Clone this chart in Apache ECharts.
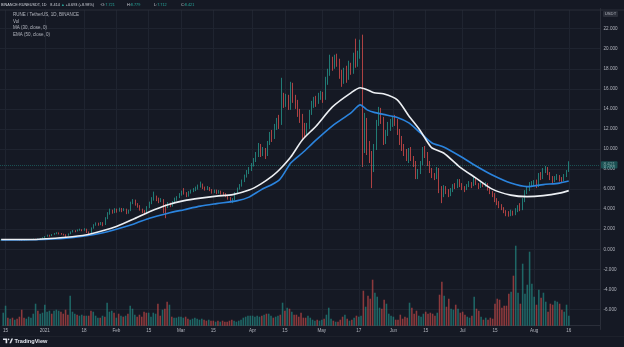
<!DOCTYPE html>
<html>
<head>
<meta charset="utf-8">
<script src="https://cdn.jsdelivr.net/npm/echarts@6/dist/echarts.min.js"></script>
<style>
  html, body { margin: 0; padding: 0; background: #151924; }
  #chart { width: 624px; height: 347px; }
</style>
</head>
<body>
<div id="chart"></div>
<script>
// RUNE / TetherUS daily candles, Binance, 14 Dec 2020 – 16 Aug 2021
const firstDay = '2020-12-14';
const dayCount = 259; // candle days plus empty space on the right

// daily candles: [open, close, low, high]
const candles = [
  // Dec 2020 (14–31)
  [0.90,0.92,0.88,0.95],[0.92,0.95,0.90,0.97],[0.95,0.93,0.91,0.98],[0.93,0.97,0.92,1.00],[0.97,0.95,0.93,0.99],
  [0.95,0.98,0.94,1.01],[0.98,0.96,0.93,1.00],[0.96,0.93,0.90,0.98],[0.93,0.90,0.86,0.95],[0.90,0.88,0.84,0.92],
  [0.88,0.91,0.87,0.94],[0.91,0.94,0.90,0.97],[0.94,0.96,0.92,0.99],[0.96,0.99,0.95,1.03],[0.99,1.02,0.97,1.06],
  [1.02,0.98,0.95,1.05],[0.98,1.03,0.96,1.07],[1.03,1.08,1.01,1.12],
  // Jan 2021
  [1.08,1.15,1.05,1.20],[1.15,1.28,1.12,1.32],[1.28,1.40,1.25,1.46],[1.40,1.35,1.25,1.45],[1.35,1.48,1.32,1.52],
  [1.48,1.55,1.44,1.62],[1.55,1.62,1.50,1.70],[1.62,1.58,1.48,1.68],[1.58,1.50,1.45,1.62],[1.50,1.45,1.38,1.55],
  [1.45,1.38,1.22,1.50],[1.38,1.52,1.35,1.58],[1.52,1.72,1.50,1.78],[1.72,1.85,1.68,1.92],[1.85,1.80,1.70,1.90],
  [1.80,1.90,1.78,1.98],[1.90,1.95,1.85,2.05],[1.95,1.88,1.80,2.00],[1.88,2.00,1.85,2.10],[2.00,1.70,1.62,2.05],
  [1.70,1.62,1.50,1.78],[1.62,2.10,1.58,2.18],[2.10,2.40,2.05,2.50],[2.40,2.55,2.35,2.68],[2.55,2.48,2.35,2.65],
  [2.48,2.60,2.40,2.72],[2.60,2.45,2.30,2.70],[2.45,3.10,2.42,3.20],[3.10,3.55,3.00,3.70],[3.55,3.85,3.45,4.05],
  [3.85,3.70,3.55,3.95],
  // Feb
  [3.70,3.95,3.60,4.10],[3.95,3.80,3.65,4.05],[3.80,4.05,3.75,4.15],[4.05,3.90,3.70,4.12],[3.90,4.00,3.80,4.10],
  [4.00,3.65,3.50,4.05],[3.65,3.85,3.55,3.95],[3.85,4.60,3.80,4.75],[4.60,4.85,4.50,5.00],[4.85,4.50,4.35,4.95],
  [4.50,4.30,4.15,4.60],[4.30,3.95,3.85,4.40],[3.95,3.80,3.60,4.05],[3.80,3.55,3.40,3.90],[3.55,4.20,3.50,4.30],
  [4.20,4.60,4.10,4.75],[4.60,4.95,4.50,5.20],[4.95,5.20,4.85,5.75],[5.20,5.00,4.80,5.35],[5.00,4.85,4.60,5.15],
  [4.85,4.95,4.70,5.10],[4.95,4.40,3.60,5.00],[4.40,4.25,3.10,4.50],[4.25,4.50,4.10,4.70],[4.50,4.35,4.20,4.65],
  [4.35,4.70,4.25,4.80],[4.70,5.00,4.60,5.15],[5.00,5.20,4.85,5.30],
  // Mar
  [5.20,5.45,5.10,5.60],[5.45,5.70,5.35,5.85],[5.70,5.60,5.45,6.10],[5.60,5.35,5.20,5.70],[5.35,5.65,5.25,5.80],
  [5.65,5.80,5.55,5.95],[5.80,5.95,5.70,6.10],[5.95,6.05,5.80,6.25],[6.05,6.30,5.95,6.45],[6.30,6.45,6.15,6.75],
  [6.45,6.15,6.00,6.55],[6.15,6.00,5.85,6.25],[6.00,6.15,5.90,6.30],[6.15,5.90,5.80,6.20],[5.90,5.75,5.55,6.00],
  [5.75,5.85,5.60,5.95],[5.85,5.65,5.50,5.95],[5.65,5.80,5.55,5.90],[5.80,5.60,5.45,5.85],[5.60,5.55,5.40,5.70],
  [5.55,5.35,5.20,5.60],[5.35,5.10,4.95,5.40],[5.10,4.80,4.65,5.20],[4.80,5.00,4.60,5.10],[5.00,5.60,4.90,5.70],
  [5.60,6.05,5.50,6.15],[6.05,6.35,5.95,6.50],[6.35,6.80,6.25,6.95],[6.80,7.30,6.70,7.45],[7.30,7.70,7.15,7.90],
  [7.70,7.95,7.50,8.20],
  // Apr
  [7.95,8.40,7.80,8.60],[8.40,8.90,8.25,9.10],[8.90,9.40,8.70,9.70],[9.40,10.30,9.20,10.60],[10.30,9.50,9.20,10.50],
  [9.50,9.90,9.30,10.20],[9.90,9.40,9.00,10.10],[9.40,10.60,9.30,10.80],[10.60,11.40,10.40,11.70],[11.40,11.20,10.70,11.90],
  [11.20,12.20,11.00,12.50],[12.20,12.80,11.90,13.10],[12.80,12.50,12.00,13.40],[12.50,15.20,12.40,17.10],[15.20,14.60,14.10,15.60],
  [14.60,15.10,14.20,15.50],[15.10,14.30,13.90,15.40],[14.30,16.40,13.90,16.70],[16.40,15.00,14.60,16.60],[15.00,14.60,14.00,15.40],
  [14.60,13.60,13.20,14.90],[13.60,13.20,12.60,14.00],[13.20,12.30,10.90,13.50],[12.30,11.60,11.20,12.60],[11.60,12.20,11.30,12.60],
  [12.20,13.60,12.00,13.90],[13.60,14.50,13.40,14.80],[14.50,14.90,14.10,15.20],[14.90,14.70,14.20,15.30],[14.70,15.30,14.50,15.60],
  // May
  [15.30,15.40,14.90,15.80],[15.40,15.00,14.60,15.70],[15.00,16.90,14.90,17.20],[16.90,17.60,16.40,18.00],[17.60,18.80,17.30,19.40],
  [18.80,18.40,17.80,19.20],[18.40,19.10,18.00,19.40],[19.10,18.80,18.20,19.50],[18.80,17.40,17.00,19.00],[17.40,16.80,16.20,17.90],
  [16.80,17.80,16.50,18.10],[17.80,17.20,16.60,18.30],[17.20,18.20,16.90,18.80],[18.20,17.80,17.40,18.60],[17.80,19.20,17.50,19.60],
  [19.20,18.60,18.10,21.00],[18.60,19.30,18.20,19.80],[19.30,20.30,19.00,20.90],[20.30,10.40,8.20,21.40],[10.40,12.70,9.60,13.60],
  [12.70,10.30,9.40,13.10],[10.30,9.40,8.60,10.80],[9.40,7.90,6.10,9.80],[7.90,10.20,7.70,10.50],[10.20,12.60,9.90,12.90],
  [12.60,13.90,12.30,14.20],[13.90,12.90,12.50,14.10],[12.90,10.90,10.40,13.20],[10.90,11.60,10.50,11.90],[11.60,12.40,11.30,12.70],
  [12.40,12.60,11.80,13.00],
  // Jun
  [12.60,13.00,12.20,13.30],[13.00,12.60,12.30,13.40],[12.60,11.80,11.40,13.00],[11.80,11.00,10.40,12.00],[11.00,10.20,9.80,11.30],
  [10.20,9.60,9.30,10.50],[9.60,9.20,8.80,10.00],[9.20,9.90,8.60,10.10],[9.90,9.10,8.80,10.20],[9.10,8.60,8.20,9.30],
  [8.60,7.40,7.00,8.80],[7.40,7.70,7.00,8.00],[7.70,8.60,7.50,8.80],[8.60,9.90,8.40,10.20],[9.90,9.50,9.10,10.30],
  [9.50,8.60,8.30,9.70],[8.60,7.90,7.60,8.80],[7.90,7.40,7.10,8.10],[7.40,7.20,6.90,7.60],[7.20,7.90,7.00,8.20],
  [7.90,5.90,5.60,8.10],[5.90,5.40,4.60,6.30],[5.40,6.10,5.20,6.40],[6.10,5.70,5.50,6.30],[5.70,5.50,5.20,6.00],
  [5.50,5.90,5.30,6.10],[5.90,6.30,5.70,6.50],[6.30,6.20,6.00,6.60],[6.20,6.80,6.10,7.00],[6.80,6.50,6.20,7.00],
  // Jul
  [6.50,6.10,5.90,6.60],[6.10,5.95,5.70,6.30],[5.95,6.30,5.90,6.50],[6.30,6.60,6.20,6.80],[6.60,6.40,6.10,6.70],
  [6.40,7.00,6.30,7.20],[7.00,6.50,6.40,7.10],[6.50,6.20,6.00,6.60],[6.20,6.50,6.10,6.70],[6.50,6.40,6.20,6.60],
  [6.40,6.50,6.20,6.70],[6.50,6.00,5.85,6.60],[6.00,5.70,5.50,6.10],[5.70,5.50,5.20,5.80],[5.50,4.90,4.70,5.60],
  [4.90,4.60,4.40,5.10],[4.60,4.30,4.10,4.80],[4.30,4.10,3.90,4.50],[4.10,3.80,3.60,4.20],[3.80,3.50,3.30,3.90],
  [3.50,3.40,3.25,3.80],[3.40,3.75,3.30,3.95],[3.75,3.50,3.35,3.85],[3.50,3.90,3.40,4.10],[3.90,4.25,3.70,4.40],
  [4.25,4.05,3.80,4.60],[4.05,4.90,3.90,5.10],[4.90,5.70,4.70,5.90],[5.70,6.10,5.50,6.30],[6.10,6.40,5.80,6.70],
  [6.40,6.60,6.20,6.80],
  // Aug (1–16)
  [6.60,6.70,6.30,6.90],[6.70,6.30,6.10,6.95],[6.30,7.40,6.20,7.60],[7.40,7.20,6.90,7.70],[7.20,7.90,7.00,8.10],
  [7.90,8.10,7.60,8.30],[8.10,7.60,7.40,8.20],[7.60,7.10,6.90,7.70],[7.10,6.80,6.60,7.30],[6.80,7.10,6.70,7.30],
  [7.10,7.25,6.90,7.50],[7.25,7.00,6.75,7.40],[7.00,6.90,6.70,7.20],[6.90,7.35,6.80,7.50],[7.35,7.721,7.20,7.90],
  [7.721,8.421,7.712,8.779]
];

// daily volume (relative units)
const volume = [
  13,20,8,7,8,6,7,9,16,8,7,9,8,12,22,15,12,13,
  21,14,15,12,15,16,15,14,12,16,11,30,14,12,11,10,11,10,10,10,15,14,10,8,8,10,9,23,14,15,13,
  8,12,10,9,10,12,20,17,11,9,11,9,14,13,13,9,13,12,22,10,16,17,24,21,9,8,8,9,
  9,8,9,7,6,7,8,7,6,7,6,5,6,5,5,4,5,4,5,4,4,5,6,5,4,5,6,8,9,10,10,
  10,9,10,9,10,11,12,12,10,8,9,10,11,23,15,18,17,14,11,11,9,13,8,8,10,8,6,5,6,5,
  6,7,11,18,7,5,4,4,6,9,11,7,5,6,8,10,9,10,35,19,30,27,46,33,29,18,17,26,22,12,10,
  9,6,6,11,7,9,8,23,18,12,15,10,9,12,14,12,13,12,10,13,31,44,30,19,27,17,16,21,17,13,
  14,11,9,8,10,29,17,15,9,6,8,6,8,7,22,27,26,18,20,20,32,34,50,80,33,22,62,32,41,74,42,
  29,21,36,28,33,24,14,22,21,25,24,22,16,14,21,10
];

// MA (30, close) readings
const ma30 = [
  ['2020-12-14',0.97],['2020-12-28',0.98],['2021-01-11',1.2],['2021-01-20',1.45],['2021-01-26',1.8],
  ['2021-02-02',2.3],['2021-02-09',3.0],['2021-02-16',3.75],['2021-02-24',4.45],['2021-03-03',4.85],
  ['2021-03-10',5.1],['2021-03-17',5.3],['2021-03-24',5.45],['2021-03-31',5.9],['2021-04-05',6.5],
  ['2021-04-10',7.3],['2021-04-13',7.9],['2021-04-18',9.2],['2021-04-23',10.9],['2021-04-29',12.3],
  ['2021-05-06',14.2],['2021-05-14',15.6],['2021-05-18',16.1],['2021-05-21',15.9],['2021-05-24',15.6],
  ['2021-05-28',15.5],['2021-06-03',14.9],['2021-06-08',13.3],['2021-06-13',11.8],['2021-06-16',10.7],
  ['2021-06-18',10.1],['2021-06-23',9.6],['2021-06-30',8.2],['2021-07-07',7.1],['2021-07-14',6.0],
  ['2021-07-22',5.4],['2021-07-29',5.25],['2021-08-05',5.35],['2021-08-12',5.6],['2021-08-16',5.85]
];

// EMA (50, close) readings
const ema50 = [
  ['2020-12-14',0.93],['2020-12-28',0.95],['2021-01-11',1.1],['2021-01-26',1.6],['2021-02-09',2.5],
  ['2021-02-16',3.1],['2021-02-24',3.6],['2021-03-03',3.95],['2021-03-10',4.3],['2021-03-17',4.55],
  ['2021-03-26',4.85],['2021-03-31',5.2],['2021-04-05',5.9],['2021-04-13',6.9],['2021-04-18',8.6],
  ['2021-04-23',9.6],['2021-04-29',10.9],['2021-05-06',12.3],['2021-05-14',13.6],['2021-05-18',14.4],
  ['2021-05-21',13.9],['2021-05-24',13.65],['2021-05-28',13.45],['2021-06-03',13.15],['2021-06-08',12.6],
  ['2021-06-13',11.6],['2021-06-18',10.6],['2021-06-23',10.2],['2021-06-30',9.3],['2021-07-07',8.3],
  ['2021-07-14',7.4],['2021-07-22',6.6],['2021-07-29',6.25],['2021-08-05',6.45],['2021-08-12',6.6],
  ['2021-08-16',6.8]
];

// time-axis labels
const tickDates = ['2020-12-15','2021-01-01','2021-01-18','2021-02-01','2021-02-15','2021-03-01','2021-03-15',
  '2021-04-01','2021-04-15','2021-05-01','2021-05-17','2021-06-01','2021-06-15','2021-07-01','2021-07-15',
  '2021-08-01','2021-08-16'];
const tickTexts = ['15','2021','18','Feb','15','Mar','15','Apr','15','May','17','Jun','15','Jul','15','Aug','16'];

// header quote
const quoteTitle = 'BINANCE:RUNEUSDT, 1D';
const quoteLast = '8.414';
const quoteChange = '+0.693 (+8.98%)';
const ohlcKeys = ['O', 'H', 'L', 'C'];
const ohlcValues = ['7.721', '8.779', '7.712', '8.421'];

// price scale
const priceMin = -8, priceMax = 24, priceStep = 2;

// ---------------------------------------------------------------
const UP = '#26a69a', DOWN = '#ef5350';
const GRID = '#1f2430', AXIS = '#2a2e39', TEXT = '#b2b5be', HEAD = '#d1d4dc';
const FONT = 'Liberation Sans, Arial, sans-serif';
const HFS = 3.8; // header font size

const days = [];
{
  const d0 = new Date(firstDay + 'T00:00:00Z');
  for (let i = 0; i < dayCount; i++) {
    const d = new Date(d0.getTime() + i * 86400000);
    days.push(d.toISOString().slice(0, 10));
  }
}
const tickMap = {};
tickDates.forEach((d, k) => { tickMap[d] = tickTexts[k]; });
const isTick = (idx, value) => tickMap[value] !== undefined;

const last = candles[candles.length - 1];
const lastClose = last[1];

const volData = volume.map((v, i) => ({
  value: v,
  itemStyle: { color: candles[i][1] >= candles[i][0] ? 'rgba(38,166,154,0.55)' : 'rgba(239,83,80,0.55)' }
}));

// header pieces
const headRich = {
  a: { fill: HEAD, fontSize: HFS, fontFamily: FONT, lineHeight: 5 },
  u: { fill: UP, fontSize: HFS, fontFamily: FONT, lineHeight: 5 }
};
const headText = (text, left) => ({
  type: 'text', left: left, top: 2.4, z: 10,
  style: { text: text, rich: headRich, fontSize: HFS, fontFamily: FONT, fill: HEAD, lineHeight: 5 }
});
const headerItems = [
  headText('{a|' + quoteTitle + '\u2003' + quoteLast + ' }{u|▲}{a| ' + quoteChange + '}', 1)
];
ohlcKeys.forEach((k, j) => {
  headerItems.push(headText('{a|' + (j === 0 ? '·' : '') + k + ':}{u|' + ohlcValues[j] + '}', 100 + j * 27));
});

const chart = echarts.init(document.getElementById('chart'), null, { renderer: 'canvas' });

chart.setOption({
  animation: false,
  backgroundColor: '#151924',
  textStyle: { fontFamily: FONT },
  grid: [
    { left: 0, right: 24, top: 8.6, bottom: 17.5 },   // price pane
    { left: 0, right: 24, top: 10, bottom: 21.3 }     // volume + time axis
  ],
  xAxis: [
    {
      type: 'category', gridIndex: 0, data: days, boundaryGap: true,
      axisLine: { show: false }, axisTick: { show: false }, axisLabel: { show: false },
      splitLine: { show: false }
    },
    {
      type: 'category', gridIndex: 1, data: days, boundaryGap: true,
      axisLine: { show: true, lineStyle: { color: AXIS, width: 1 } },
      axisTick: { show: false, alignWithLabel: true, interval: isTick },
      axisLabel: {
        interval: isTick, formatter: v => tickMap[v] || '',
        color: TEXT, fontSize: 4.6, margin: 2.5, fontFamily: FONT
      },
      splitLine: { show: true, interval: isTick, alignWithLabel: true, lineStyle: { color: GRID, width: 1 } }
    }
  ],
  yAxis: [
    {
      type: 'value', gridIndex: 0, position: 'right',
      min: priceMin, max: priceMax, interval: priceStep,
      axisLine: { show: true, lineStyle: { color: AXIS } },
      axisTick: { show: false },
      axisLabel: {
        color: TEXT, fontSize: 4.6, margin: 3.5, fontFamily: FONT,
        showMinLabel: false, showMaxLabel: false,
        formatter: v => v.toFixed(3)
      },
      splitLine: { show: true, showMinLine: false, showMaxLine: false, lineStyle: { color: GRID, width: 1 } }
    },
    {
      type: 'value', gridIndex: 1, min: 0, max: 315.7, show: false,
      splitLine: { show: false }
    }
  ],
  series: [
    {
      name: 'Vol', type: 'bar', xAxisIndex: 1, yAxisIndex: 1,
      data: volData, barWidth: '68%', z: 1, silent: true
    },
    {
      name: 'RUNE / TetherUS', type: 'candlestick', xAxisIndex: 0, yAxisIndex: 0,
      data: candles, barWidth: 1.3, z: 3,
      itemStyle: { color: UP, color0: DOWN, borderColor: UP, borderColor0: DOWN, borderWidth: 0.7 },
      markLine: {
        silent: true, symbol: 'none',
        lineStyle: { color: UP, type: 'dotted', width: 1, opacity: 0.4 },
        label: {
          position: 'end', distance: 1, formatter: lastClose.toFixed(3),
          color: '#ffffff', backgroundColor: UP, fontSize: 4.6, fontFamily: FONT,
          padding: [1.2, 2.5, 1, 2.5], borderRadius: 1
        },
        data: [{ yAxis: lastClose }]
      }
    },
    {
      name: 'MA (30, close, 0)', type: 'line', xAxisIndex: 0, yAxisIndex: 0,
      data: ma30, showSymbol: false, smooth: 0.25, z: 5,
      lineStyle: { color: '#eceff3', width: 1.6 }
    },
    {
      name: 'EMA (50, close, 0)', type: 'line', xAxisIndex: 0, yAxisIndex: 0,
      data: ema50, showSymbol: false, smooth: 0.25, z: 4,
      lineStyle: { color: '#2b84de', width: 1.6 }
    }
  ],
  graphic: [
    // header strip separator
    { type: 'line', z: 10, shape: { x1: 0, y1: 10, x2: 624, y2: 10 }, style: { stroke: AXIS, lineWidth: 1 } },
    ...headerItems,
    // pane legend
    { type: 'text', left: 13, top: 12.7, z: 10, style: { text: 'RUNE / TetherUS, 1D, BINANCE', fill: TEXT, fontSize: 4.5, fontFamily: FONT } },
    { type: 'text', left: 13, top: 18.9, z: 10, style: { text: 'Vol', fill: TEXT, fontSize: 4.5, fontFamily: FONT } },
    { type: 'text', left: 13, top: 25.4, z: 10, style: { text: 'MA (30, close, 0)', fill: TEXT, fontSize: 4.5, fontFamily: FONT } },
    { type: 'text', left: 13, top: 31.8, z: 10, style: { text: 'EMA (50, close, 0)', fill: TEXT, fontSize: 4.5, fontFamily: FONT } },
    // currency badge on the price scale
    {
      type: 'group', left: 603, top: 11, z: 10,
      children: [
        { type: 'rect', shape: { x: 0, y: 0, width: 15, height: 6, r: 1 }, style: { fill: '#2a2e39' } },
        { type: 'text', style: { x: 7.5, y: 3.2, text: 'USDT', fill: TEXT, fontSize: 4.2, fontFamily: FONT, align: 'center', verticalAlign: 'middle' } }
      ]
    },
    // bottom separator and brand mark
    { type: 'line', z: 10, shape: { x1: 0, y1: 336.5, x2: 624, y2: 336.5 }, style: { stroke: '#1d212b', lineWidth: 1 } },
    {
      type: 'group', left: 3, top: 338, z: 10,
      children: [
        { type: 'polygon', shape: { points: [[0,0],[4.2,0],[4.2,4.6],[2.6,4.6],[2.6,1.5],[0,1.5]] }, style: { fill: '#e0e3eb' } },
        { type: 'circle', shape: { cx: 5.6, cy: 0.8, r: 0.8 }, style: { fill: '#e0e3eb' } },
        { type: 'polygon', shape: { points: [[6.4,4.6],[8.4,0],[10,0],[8,4.6]] }, style: { fill: '#e0e3eb' } },
        { type: 'text', style: { x: 11.5, y: 2.4, text: 'TradingView', fill: '#e0e3eb', fontSize: 5.6, fontWeight: 'bold', fontFamily: FONT, verticalAlign: 'middle' } }
      ]
    }
  ]
});
</script>
</body>
</html>
